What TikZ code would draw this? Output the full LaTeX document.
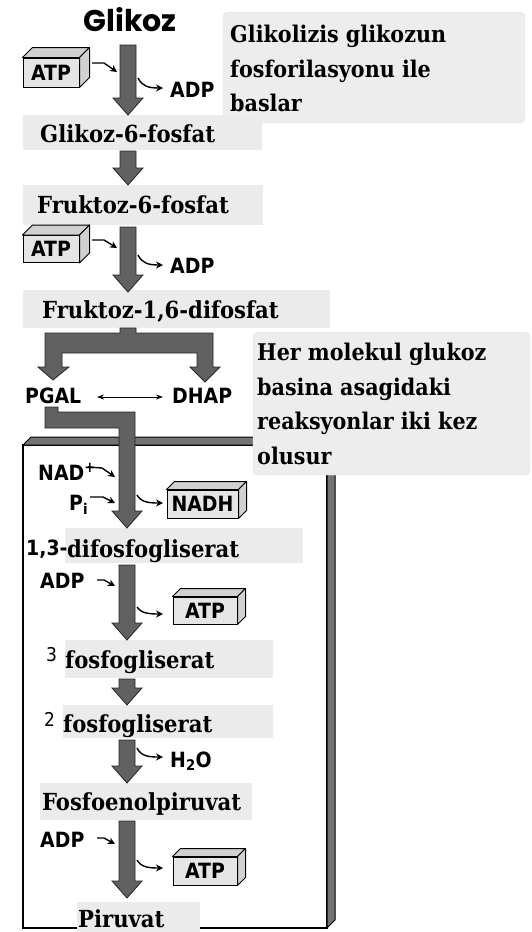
\documentclass[tikz,border=0pt]{standalone}
\usepackage{fontspec}
\setmainfont{DejaVu Serif Condensed}
\newfontfamily\sansf{DejaVu Sans Condensed}
\newfontfamily\poppf{Poppins}
\usetikzlibrary{arrows.meta}
\newcommand\fatarr[3]{\draw[fatarrow] (#1-8,#2) -- (#1+8,#2) -- (#1+8,#3-17) -- (#1+15,#3-17) -- (#1,#3) -- (#1-15,#3-17) -- (#1-8,#3-17) -- cycle;}
\newcommand\cubeface[2]{%
  \draw[cubeside] (#1.north west) -- ++(#2,-#2) -- ([shift={(#2,-#2)}]#1.north east) -- (#1.north east) -- cycle;
  \draw[cubeside] (#1.north east) -- ++(#2,-#2) -- ([shift={(#2,-#2)}]#1.south east) -- (#1.south east) -- cycle;}
\begin{document}
\begin{tikzpicture}[x=1pt,y=-1pt,
  lbox/.style={fill=black!8, draw=none},
  notebox/.style={fill=black!7, draw=black!12, rounded corners=5pt},
  serifl/.style={font=\fontsize{23.5}{34}\selectfont\bfseries, inner sep=0pt, anchor=base west},
  notet/.style={font=\fontsize{23}{34.5}\selectfont\bfseries, inner sep=0pt, anchor=north west, align=left},
  sansl/.style={font=\sansf\bfseries\fontsize{21}{24}\selectfont, inner sep=0pt, anchor=base west},
  supl/.style={font=\sansf\fontsize{19}{21}\selectfont, inner sep=0pt, anchor=base west},
  cubefront/.style={draw, fill=black!10, line width=1pt, inner sep=0pt, font=\sansf\bfseries\fontsize{21}{24}\selectfont},
  cubeside/.style={draw, fill=black!18, line width=1pt, line join=round},
  fatarrow/.style={fill=black!62, draw=black!85, line width=0.8pt, line join=miter},
  inarr/.style={draw, line width=1.4pt, line join=round, -{Stealth[length=7pt,width=7pt]}},
  dbl/.style={draw, line width=1pt, {Stealth[length=7pt,width=5pt]}-{Stealth[length=7pt,width=5pt]}},
]
\useasboundingbox (0,0) rectangle (532,932);
\fill[white] (0,0) rectangle (532,932);

% ---------- frame (3D box) ----------
\draw[fill=white, line width=1.2pt] (23,445) rectangle (327,928);
\draw[cubeside, fill=black!55] (23,445) -- (31,437) -- (335,437) -- (327,445) -- cycle;
\draw[cubeside, fill=black!55] (327,445) -- (335,437) -- (335,920) -- (327,928) -- cycle;

% ---------- note boxes ----------
\path[notebox] (223,12) rectangle (525,123);
\node[notet] (note1) at (230,25) {Glikolizis glikozun\\fosforilasyonu ile\\baslar};
\path[notebox] (253,332) rectangle (530,475);
\node[notet] (note2) at (257,343) {Her molekul glukoz\\basina asagidaki\\reaksyonlar iki kez\\olusur};

% ---------- label boxes ----------
\path[lbox] (23,115) rectangle (262,150);
\path[lbox] (23,185) rectangle (263,225);
\path[lbox] (23,290) rectangle (330,328);
\path[lbox] (65,528) rectangle (303,563);
\path[lbox] (65,640) rectangle (273,678);
\path[lbox] (63,705) rectangle (273,738);
\path[lbox] (40,783) rectangle (252,820);
\path[lbox] (77,902) rectangle (200,932);

% ---------- texts ----------
\node[font=\poppf\bfseries\fontsize{30}{32}\selectfont, inner sep=0pt] (glikoz) at (130,20) {Glikoz};
\node[serifl] (g6f) at (40,142) {Glikoz-6-fosfat};
\node[serifl] (f6f) at (37,213) {Fruktoz-6-fosfat};
\node[serifl] (f16) at (42,318) {Fruktoz-1,6-difosfat};
\node[sansl] (n13) at (26,555) {1,3-};
\node[serifl] (dpg) at (67,557) {difosfogliserat};
\node[supl] (n3) at (46,661) {3};
\node[serifl] (pg3) at (65,668) {fosfogliserat};
\node[supl] (n2) at (44,726) {2};
\node[serifl] (pg2) at (63,732) {fosfogliserat};
\node[serifl] (pep) at (42,810) {Fosfoenolpiruvat};
\node[serifl] (pir) at (78,927) {Piruvat};

\node[sansl] (adp1) at (170,97) {ADP};
\node[sansl] (adp2) at (170,273) {ADP};
\node[sansl] (pgal) at (25,403) {PGAL};
\node[sansl] (dhap) at (172,403) {DHAP};
\node[sansl] (nad) at (38,480) {NAD\textsuperscript{+}};
\node[sansl] (pi) at (69,510) {P\textsubscript{i}};
\node[sansl] (adp3) at (40,588) {ADP};
\node[sansl] (h2o) at (170,767) {H\textsubscript{2}O};
\node[sansl] (adp4) at (40,847) {ADP};

% ---------- cubes ----------
\node[cubefront, minimum width=56pt, minimum height=29pt] (atp1) at (51,72.5) {ATP};
\cubeface{atp1}{10}
\node[cubefront, minimum width=56pt, minimum height=27pt] (atp2) at (51,249) {ATP};
\cubeface{atp2}{10}
\node[cubefront, minimum width=71pt, minimum height=28pt] (nadh) at (202.5,504) {NADH};
\cubeface{nadh}{8}
\node[cubefront, minimum width=64pt, minimum height=27pt] (atp3) at (205,610.5) {ATP};
\cubeface{atp3}{8}
\node[cubefront, minimum width=64pt, minimum height=28pt] (atp4) at (205,871) {ATP};
\cubeface{atp4}{8}

% ---------- fat arrows ----------
\fatarr{128}{45}{115}
\fatarr{128}{151}{185}
\fatarr{128}{227}{292}
% split arrow
\draw[fatarrow] (120,328) -- (136,328) -- (136,333) -- (213,333) -- (213,367) -- (220,367) -- (205,382) -- (190,367) -- (197,367) -- (197,353) -- (62,353) -- (62,367) -- (69,367) -- (53,380) -- (38,367) -- (45,367) -- (45,333) -- (120,333) -- cycle;
% PGAL to 1,3-difosfogliserat
\draw[fatarrow] (45,407) -- (58,407) -- (58,412) -- (135,412) -- (135,511) -- (142,511) -- (127,528) -- (112,511) -- (119,511) -- (119,428) -- (45,428) -- cycle;
\fatarr{127}{565}{640}
\fatarr{127}{679}{705}
\fatarr{127}{740}{783}
\fatarr{127}{821}{898}

% ---------- double arrow ----------
\coordinate (da) at (97,397);
\coordinate (db) at (163,397);
\draw[dbl] (da) -- (db);

% ---------- small arrows ----------
\draw[inarr] (92,63) -- (104,63) -- (117,72);
\draw[inarr] (138,78) .. controls (142,86) and (148,88) .. (163,88);
\draw[inarr] (92,240) -- (104,240) -- (117,248);
\draw[inarr] (138,255) .. controls (142,263) and (148,265) .. (163,265);
\draw[inarr] (88,467) -- (102,468) -- (115,477);
\draw[inarr] (90,497) -- (103,497) -- (115,503);
\draw[inarr] (137,495) .. controls (141,502) and (148,503) .. (163,503);
\draw[inarr] (97,580) -- (104,580) -- (115,586);
\draw[inarr] (137,607) .. controls (141,613) and (148,614) .. (163,614);
\draw[inarr] (137,748) .. controls (141,756) and (148,757) .. (163,757);
\draw[inarr] (97,838) -- (104,838) -- (115,844);
\draw[inarr] (137,860) .. controls (141,867) and (148,868) .. (163,868);
\end{tikzpicture}
\end{document}
